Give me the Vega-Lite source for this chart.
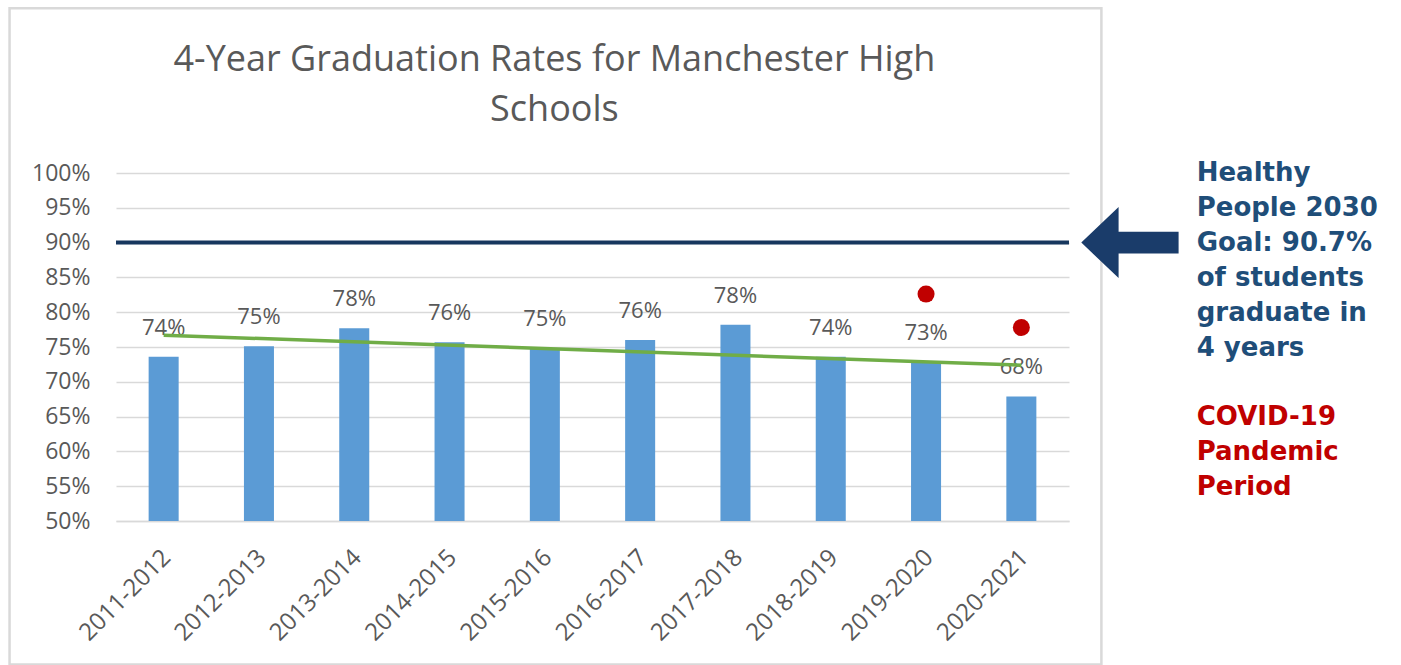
{
  "$schema": "https://vega.github.io/schema/vega-lite/v6.json",
  "width": 953,
  "height": 348,
  "autosize": {"type": "none"},
  "padding": {"left": 116, "top": 173, "right": 332, "bottom": 144},
  "background": "white",
  "config": {
    "view": {"stroke": null},
    "axisY": {
      "format": ".0%",
      "values": [0.5, 0.55, 0.6, 0.65, 0.7, 0.75, 0.8, 0.85, 0.9, 0.95, 1.0],
      "grid": true,
      "gridColor": "#d9d9d9",
      "gridWidth": 1.5,
      "domain": false,
      "ticks": false,
      "labelPadding": 26,
      "labelFont": "Open Sans",
      "labelFontSize": 23,
      "labelColor": "#595959",
      "title": null
    },
    "axisX": {
      "labelAngle": -45,
      "ticks": false,
      "grid": false,
      "domainColor": "#d9d9d9",
      "domainWidth": 1.5,
      "labelFont": "Open Sans",
      "labelFontSize": 24,
      "labelColor": "#595959",
      "labelPadding": 24,
      "labelOffset": -5,
      "title": null
    }
  },
  "data": {
    "values": [
      {"year": "2011-2012", "idx": 1, "rate": 0.736, "covid": null},
      {"year": "2012-2013", "idx": 2, "rate": 0.751, "covid": null},
      {"year": "2013-2014", "idx": 3, "rate": 0.777, "covid": null},
      {"year": "2014-2015", "idx": 4, "rate": 0.757, "covid": null},
      {"year": "2015-2016", "idx": 5, "rate": 0.748, "covid": null},
      {"year": "2016-2017", "idx": 6, "rate": 0.760, "covid": null},
      {"year": "2017-2018", "idx": 7, "rate": 0.782, "covid": null},
      {"year": "2018-2019", "idx": 8, "rate": 0.736, "covid": null},
      {"year": "2019-2020", "idx": 9, "rate": 0.728, "covid": 0.826},
      {"year": "2020-2021", "idx": 10, "rate": 0.679, "covid": 0.778}
    ]
  },
  "resolve": {"scale": {"x": "independent"}},
  "layer": [
    {
      "encoding": {
        "x": {
          "field": "year",
          "type": "nominal",
          "sort": null,
          "scale": {"paddingInner": 0.685, "paddingOuter": 0.3425}
        }
      },
      "layer": [
        {
          "mark": {"type": "bar", "color": "#5b9bd5"},
          "encoding": {
            "y": {"field": "rate", "type": "quantitative", "scale": {"domain": [0.5, 1], "zero": false, "nice": false}},
            "y2": {"datum": 0.5}
          }
        },
        {
          "mark": {"type": "text", "dy": -22, "baseline": "alphabetic", "font": "Open Sans", "fontSize": 22, "color": "#595959"},
          "encoding": {
            "y": {"field": "rate", "type": "quantitative"},
            "text": {"field": "rate", "type": "quantitative", "format": ".0%"}
          }
        },
        {
          "mark": {"type": "point", "shape": "circle", "filled": true, "opacity": 1, "color": "#c00000", "size": 290},
          "encoding": {
            "y": {"field": "covid", "type": "quantitative"}
          }
        }
      ]
    },
    {
      "layer": [
        {
          "data": {"values": [{}]},
          "mark": {"type": "rect", "fillOpacity": 0, "stroke": "#d9d9d9", "strokeWidth": 2.5},
          "encoding": {
            "x": {"datum": -0.617, "type": "quantitative", "scale": {"domain": [0.5, 10.5], "nice": false, "zero": false}, "axis": null},
            "x2": {"datum": 10.84},
            "y": {"datum": 1.2366, "type": "quantitative"},
            "y2": {"datum": 0.294}
          }
        },
        {
          "data": {"values": [{}]},
          "mark": {"type": "text", "align": "center", "baseline": "middle", "lineHeight": 50, "font": "Open Sans", "fontWeight": "normal", "fontSize": 36, "color": "#595959",
                   "text": ["4-Year Graduation Rates for Manchester High", "Schools"]},
          "encoding": {
            "x": {"datum": 5.1, "type": "quantitative", "scale": {"domain": [0.5, 10.5], "nice": false, "zero": false}, "axis": null},
            "y": {"datum": 1.162, "type": "quantitative"}
          }
        },
        {
          "transform": [{"regression": "rate", "on": "idx"}],
          "mark": {"type": "line", "color": "#70ad47", "strokeWidth": 3.5},
          "encoding": {
            "x": {"field": "idx", "type": "quantitative", "scale": {"domain": [0.5, 10.5], "nice": false, "zero": false}, "axis": null},
            "y": {"field": "rate", "type": "quantitative"}
          }
        },
        {
          "data": {"values": [{}]},
          "mark": {"type": "rule", "color": "#17375e", "strokeWidth": 4},
          "encoding": {
            "y": {"datum": 0.9, "type": "quantitative"}
          }
        },
        {
          "data": {"values": [{}]},
          "mark": {"type": "point", "filled": true, "opacity": 1, "color": "#1a3c6a", "size": 10000,
                   "shape": "M -0.974 0 L -0.228 -0.71 L -0.228 -0.217 L 0.972 -0.217 L 0.972 0.217 L -0.228 0.217 L -0.228 0.71 Z"},
          "encoding": {
            "x": {"datum": 11.14, "type": "quantitative", "scale": {"domain": [0.5, 10.5], "nice": false, "zero": false}, "axis": null},
            "y": {"datum": 0.9, "type": "quantitative"}
          }
        },
        {
          "data": {"values": [{}]},
          "mark": {"type": "text", "align": "left", "baseline": "middle", "lineHeight": 35, "font": "DejaVu Sans", "fontWeight": "bold", "fontSize": 26, "color": "#1f4e79",
                   "text": ["Healthy", "People 2030", "Goal: 90.7%", "of students", "graduate in", "4 years"]},
          "encoding": {
            "x": {"datum": 11.84, "type": "quantitative", "scale": {"domain": [0.5, 10.5], "nice": false, "zero": false}, "axis": null},
            "y": {"datum": 1.0, "type": "quantitative"}
          }
        },
        {
          "data": {"values": [{}]},
          "mark": {"type": "text", "align": "left", "baseline": "middle", "lineHeight": 35, "font": "DejaVu Sans", "fontWeight": "bold", "fontSize": 26, "color": "#c00000",
                   "text": ["COVID-19", "Pandemic", "Period"]},
          "encoding": {
            "x": {"datum": 11.84, "type": "quantitative", "scale": {"domain": [0.5, 10.5], "nice": false, "zero": false}, "axis": null},
            "y": {"datum": 0.6494, "type": "quantitative"}
          }
        }
      ]
    }
  ]
}
